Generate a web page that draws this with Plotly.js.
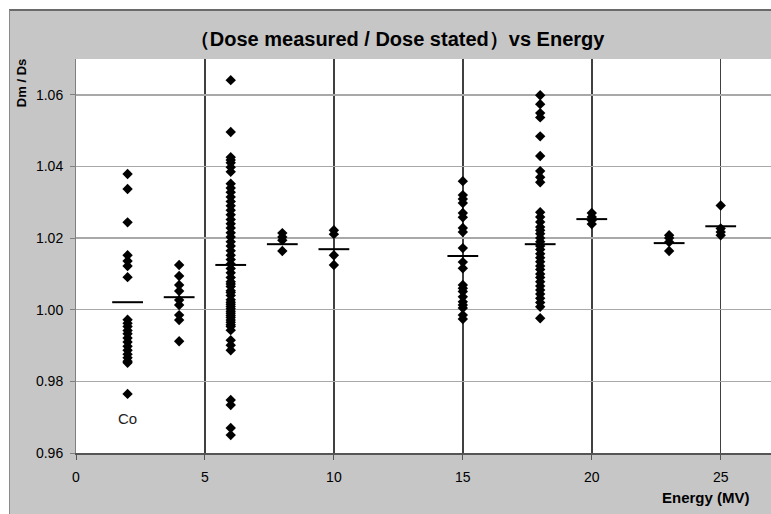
<!DOCTYPE html>
<html>
<head>
<meta charset="utf-8">
<script src="https://cdn.plot.ly/plotly-3.0.1.min.js"></script>
<style>
html,body{margin:0;padding:0;background:#ffffff;width:771px;height:514px;overflow:hidden;}
#frame{position:absolute;left:9px;top:9px;width:762px;height:505px;background:#c6c6c6;border-top:2px solid #6a6a6a;border-left:1px solid #8a8a8a;box-sizing:border-box;}
#chart{position:absolute;left:0;top:0;width:771px;height:514px;}
</style>
</head>
<body>
<div id="frame"></div>
<div id="chart"></div>
<script>
// Energies (MV) and measured/stated dose ratios
const energies = [2, 4, 6, 8, 10, 15, 18, 20, 23, 25];
const ratios2 = [1.0379, 1.0337, 1.0244, 1.0152, 1.0136, 1.0122, 1.0091, 0.9972, 0.9962, 0.9953, 0.9942, 0.9933, 0.9921, 0.9910, 0.9898, 0.9887, 0.9876, 0.9866, 0.9856, 0.9852, 0.9765];
const ratios4 = [1.0125, 1.0094, 1.0069, 1.0052, 1.0027, 1.0013, 0.9985, 0.9971, 0.9912];
const ratios6 = [1.0641, 1.0496, 1.0426, 1.0418, 1.0410, 1.0398, 1.0385, 1.0352, 1.0340, 1.0328, 1.0315, 1.0302, 1.0290, 1.0278, 1.0265, 1.0252, 1.0240, 1.0228, 1.0215, 1.0203, 1.0190, 1.0178, 1.0165, 1.0152, 1.0140, 1.0128, 1.0115, 1.0103, 1.0090, 1.0078, 1.0072, 1.0065, 1.0053, 1.0048, 1.0040, 1.0028, 1.0021, 1.0015, 1.0009, 1.0003, 0.9996, 0.9990, 0.9984, 0.9978, 0.9971, 0.9965, 0.9958, 0.9953, 0.9943, 0.9915, 0.9901, 0.9887, 0.9748, 0.9734, 0.9670, 0.9650];
const ratios8 = [1.0214, 1.0203, 1.0194, 1.0164];
const ratios10 = [1.0222, 1.0211, 1.0152, 1.0125];
const ratios15 = [1.0359, 1.0320, 1.0309, 1.0298, 1.0270, 1.0258, 1.0228, 1.0217, 1.0172, 1.0133, 1.0116, 1.0069, 1.0060, 1.0051, 1.0036, 1.0022, 1.0013, 1.0005, 0.9985, 0.9974];
const ratios18 = [1.0599, 1.0574, 1.0549, 1.0537, 1.0484, 1.0429, 1.0387, 1.0370, 1.0356, 1.0272, 1.0259, 1.0245, 1.0231, 1.0222, 1.0212, 1.0200, 1.0190, 1.0178, 1.0168, 1.0156, 1.0145, 1.0134, 1.0122, 1.0112, 1.0100, 1.0090, 1.0078, 1.0066, 1.0055, 1.0044, 1.0032, 1.0020, 1.0008, 0.9976];
const ratios20 = [1.0270, 1.0259, 1.0250, 1.0239];
const ratios23 = [1.0208, 1.0200, 1.0189, 1.0164];
const ratios25 = [1.0291, 1.0227, 1.0217, 1.0208];
const meanRatios = [1.0021, 1.0035, 1.0125, 1.0183, 1.0169, 1.0150, 1.0183, 1.0253, 1.0186, 1.0233];
const xTicks = [0, 5, 10, 15, 20, 25];
const yTicks = [0.96, 0.98, 1.00, 1.02, 1.04, 1.06];
const yTickText = ["0.96", "0.98", "1.00", "1.02", "1.04", "1.06"];

const groups = [ratios2, ratios4, ratios6, ratios8, ratios10, ratios15, ratios18, ratios20, ratios23, ratios25];
const px = [], py = [];
groups.forEach((g, i) => g.forEach(v => { px.push(energies[i]); py.push(v); }));

const traces = [
  {x: px, y: py, type: 'scatter', mode: 'markers', cliponaxis: false,
   marker: {symbol: 'diamond', size: 8, color: '#000000', line: {width: 0}}, hoverinfo: 'x+y'},
  {x: energies, y: meanRatios, type: 'scatter', mode: 'markers',
   marker: {symbol: 'line-ew', size: 22, color: '#000000', line: {width: 2, color: '#000000'}}}
];

const layout = {
  width: 771, height: 514,
  margin: {l: 76, r: 0, t: 59, b: 61},
  paper_bgcolor: 'rgba(0,0,0,0)', plot_bgcolor: '#ffffff',
  showlegend: false,
  font: {family: 'Liberation Sans, Arial, sans-serif', color: '#000000'},
  title: {text: '（Dose measured / Dose stated）vs Energy', x: 0.462, xref: 'paper', xanchor: 'center', y: 0.925, yanchor: 'middle',
          font: {size: 20, family: 'Liberation Sans, Arial, sans-serif', weight: 'bold', color: '#000000'}},
  xaxis: {range: [0, 26.95], tickvals: xTicks, ticktext: xTicks.map(String), showgrid: true, gridcolor: '#404040', gridwidth: 1.5,
          zeroline: false, showline: true, linecolor: '#555555', linewidth: 1.5, ticks: 'outside', ticklen: 5, tickcolor: '#555555',
          ticklabelstandoff: 6, tickfont: {size: 14}},
  yaxis: {range: [0.96, 1.07], tickvals: yTicks, ticktext: yTickText, showgrid: true, gridcolor: '#a8a8a8', gridwidth: 1.5,
          zeroline: false, showline: true, linecolor: '#808080', linewidth: 1, ticks: 'outside', ticklen: 5, tickcolor: '#808080',
          ticklabelstandoff: 4, tickfont: {size: 14}},
  annotations: [
    {text: 'Co', x: 2, y: 0.9695, xref: 'x', yref: 'y', showarrow: false, font: {size: 15, color: '#222222'}},
    {text: '<b>Dm / Ds</b>', xref: 'paper', yref: 'paper', x: -0.079, y: 0.939, xanchor: 'center', yanchor: 'middle', textangle: -90, showarrow: false, font: {size: 13}},
    {text: '<b>Energy (MV)</b>', xref: 'paper', yref: 'paper', x: 0.973, y: -0.112, xanchor: 'right', yanchor: 'middle', showarrow: false, font: {size: 15}}
  ]
};

Plotly.newPlot('chart', traces, layout, {displayModeBar: false, staticPlot: true});
</script>
</body>
</html>
